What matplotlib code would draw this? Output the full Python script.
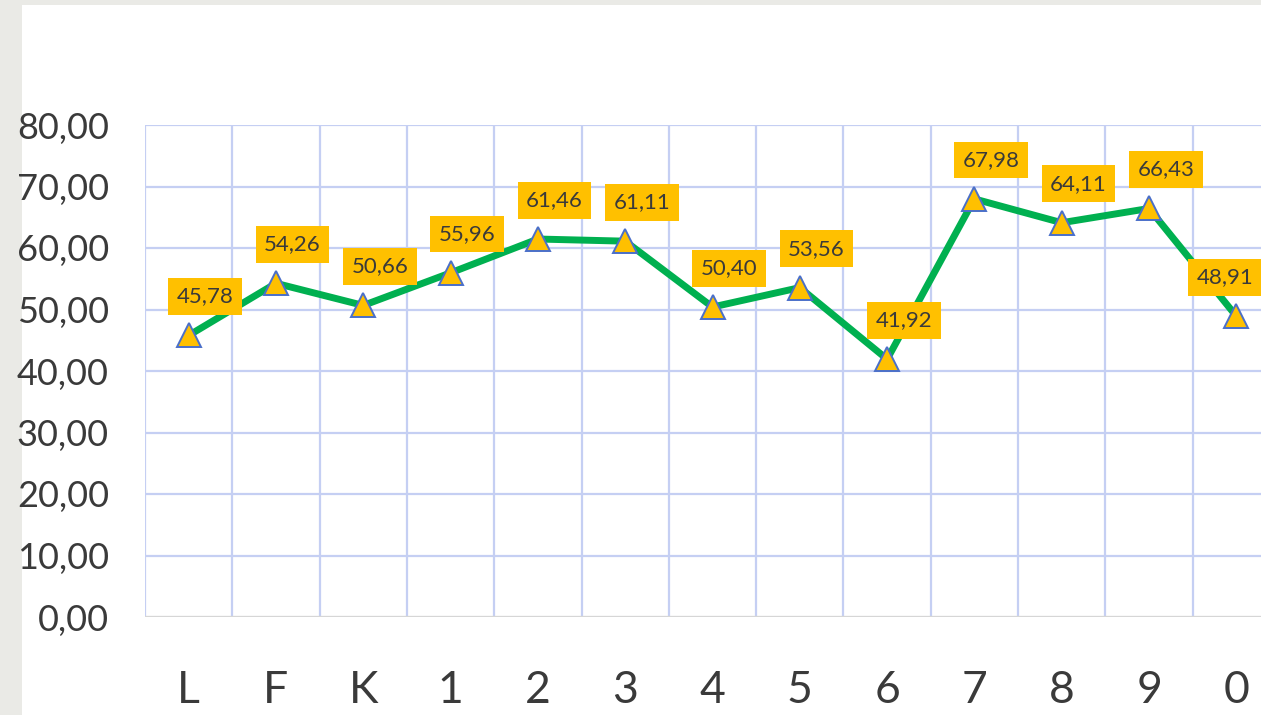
import matplotlib
matplotlib.use('Agg')
import matplotlib.pyplot as plt
from matplotlib.patches import Rectangle

# Data
categories = ['L', 'F', 'K', '1', '2', '3', '4', '5', '6', '7', '8', '9', '0']
values = [45.78, 54.26, 50.66, 55.96, 61.46, 61.11, 50.40, 53.56, 41.92, 67.98, 64.11, 66.43, 48.91]
yticks = [0, 10, 20, 30, 40, 50, 60, 70, 80]

plt.rcParams['font.family'] = ['Lato', 'DejaVu Sans']

W, H = 1261, 715
fig = plt.figure(figsize=(W / 100, H / 100), dpi=100, facecolor='#EAEAE6')
# white slide area
fig.patches.append(Rectangle((22 / W, 0), 1, 1 - 5 / H, transform=fig.transFigure,
                             facecolor='white', edgecolor='none', zorder=-10))

# axes box in pixels: left 145, right ~1280 (clipped), y0 at 617, y80 at 125
left, right = 145, 1280
ax = fig.add_axes([left / W, (H - 617) / H, (right - left) / W, (617 - 125) / H])
ax.set_facecolor('none')

x = list(range(len(categories)))
ax.set_xlim(-0.5, len(categories) - 0.5)
ax.set_ylim(0, 80)

grid_c = '#C5CFF3'
for b in range(len(categories) + 1):
    ax.axvline(b - 0.5, color=grid_c, lw=1.6, zorder=1)
for t in yticks[1:]:
    ax.axhline(t, color=grid_c, lw=1.6, zorder=1)
ax.axhline(0, color='#D6D6D6', lw=2.4, zorder=2)

for s in ax.spines.values():
    s.set_visible(False)

ax.plot(x, values, color='#00B050', lw=5, zorder=3, solid_joinstyle='round')
ax.plot(x, values, linestyle='none', marker='^', markersize=17,
        markerfacecolor='#FFC000', markeredgecolor='#4A6FC9', markeredgewidth=1.4, zorder=4)

for i, v in enumerate(values):
    dx = 12 if i < len(values) - 1 else -8
    ax.annotate(f'{v:.2f}'.replace('.', ','), (i, v), xytext=(dx, 28), textcoords='offset points',
                ha='center', va='center', fontsize=16, color='#3A3A3A', zorder=5,
                bbox=dict(boxstyle='square,pad=0.38', facecolor='#FFC000', edgecolor='none'))

ax.set_yticks(yticks)
ax.set_yticklabels([f'{t},00' for t in yticks], fontsize=26, color='#3A3A3A')
ax.set_xticks(x)
ax.set_xticklabels(categories, fontsize=32, color='#3A3A3A')
ax.tick_params(axis='y', length=0, pad=26)
ax.tick_params(axis='x', length=0, pad=38)

fig.savefig('out.png', dpi=100, facecolor=fig.get_facecolor())
